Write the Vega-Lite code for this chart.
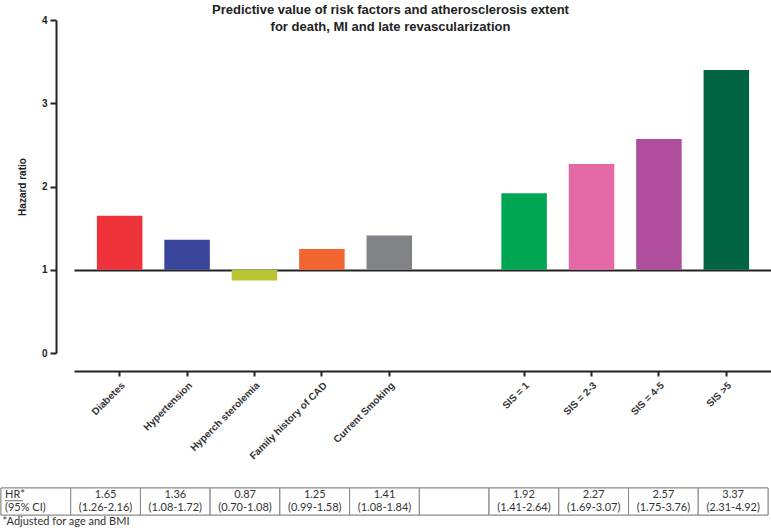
{
  "$schema": "https://vega.github.io/schema/vega-lite/v6.json",
  "padding": {"top": 4, "left": 0, "right": 0, "bottom": 0},
  "spacing": 26,
  "config": {
    "view": {"stroke": null},
    "font": "Liberation Sans"
  },
  "datasets": {
    "bars": [
      {"cat": "Diabetes", "hr": 1.65},
      {"cat": "Hypertension", "hr": 1.36},
      {"cat": "Hyperch sterolemia", "hr": 0.87},
      {"cat": "Family history of CAD", "hr": 1.25},
      {"cat": "Current Smoking", "hr": 1.41},
      {"cat": "SIS = 1", "hr": 1.92},
      {"cat": "SIS = 2-3", "hr": 2.27},
      {"cat": "SIS = 4-5", "hr": 2.57},
      {"cat": "SIS >5", "hr": 3.40}
    ],
    "cells": [
      {"col": "hdr", "row": "HR", "txt": "HR*"},
      {"col": "hdr", "row": "CI", "txt": "(95% CI)"},
      {"col": "Diabetes", "row": "HR", "txt": "1.65"},
      {"col": "Diabetes", "row": "CI", "txt": "(1.26-2.16)"},
      {"col": "Hypertension", "row": "HR", "txt": "1.36"},
      {"col": "Hypertension", "row": "CI", "txt": "(1.08-1.72)"},
      {"col": "Hyperch sterolemia", "row": "HR", "txt": "0.87"},
      {"col": "Hyperch sterolemia", "row": "CI", "txt": "(0.70-1.08)"},
      {"col": "Family history of CAD", "row": "HR", "txt": "1.25"},
      {"col": "Family history of CAD", "row": "CI", "txt": "(0.99-1.58)"},
      {"col": "Current Smoking", "row": "HR", "txt": "1.41"},
      {"col": "Current Smoking", "row": "CI", "txt": "(1.08-1.84)"},
      {"col": "gap", "row": "HR", "txt": ""},
      {"col": "gap", "row": "CI", "txt": ""},
      {"col": "SIS = 1", "row": "HR", "txt": "1.92"},
      {"col": "SIS = 1", "row": "CI", "txt": "(1.41-2.64)"},
      {"col": "SIS = 2-3", "row": "HR", "txt": "2.27"},
      {"col": "SIS = 2-3", "row": "CI", "txt": "(1.69-3.07)"},
      {"col": "SIS = 4-5", "row": "HR", "txt": "2.57"},
      {"col": "SIS = 4-5", "row": "CI", "txt": "(1.75-3.76)"},
      {"col": "SIS >5", "row": "HR", "txt": "3.37"},
      {"col": "SIS >5", "row": "CI", "txt": "(2.31-4.92)"}
    ]
  },
  "vconcat": [
    {
      "width": 771,
      "height": 333,
      "title": {
        "text": ["Predictive value of risk factors and atherosclerosis extent", "for death, MI and late revascularization"],
        "fontSize": 13,
        "fontWeight": "bold",
        "lineHeight": 17,
        "color": "#222222",
        "anchor": "middle",
        "dx": 4,
        "offset": -19
      },
      "data": {"name": "bars"},
      "layer": [
        {
          "mark": {"type": "bar"},
          "encoding": {
            "x": {
              "field": "cat",
              "type": "nominal",
              "scale": {
                "domain": ["Diabetes", "Hypertension", "Hyperch sterolemia", "Family history of CAD", "Current Smoking", "gap", "SIS = 1", "SIS = 2-3", "SIS = 4-5", "SIS >5"],
                "range": [73, 771],
                "paddingInner": 0.325,
                "paddingOuter": 0.34
              },
              "axis": {
                "values": ["Diabetes", "Hypertension", "Hyperch sterolemia", "Family history of CAD", "Current Smoking", "SIS = 1", "SIS = 2-3", "SIS = 4-5", "SIS >5"],
                "title": null,
                "offset": 18,
                "labelAngle": -45,
                "labelFont": "Liberation Sans",
                "labelFontWeight": "bold",
                "labelFontSize": 10,
                "labelColor": "#333333",
                "labelPadding": 4,
                "tickSize": 5,
                "tickWidth": 2,
                "tickColor": "#222222",
                "domainWidth": 2,
                "domainColor": "#222222"
              }
            },
            "y": {
              "field": "hr",
              "type": "quantitative",
              "scale": {"domain": [0, 4], "nice": false},
              "axis": {
                "values": [0, 1, 2, 3, 4],
                "offset": -55,
                "title": "Hazard ratio",
                "titleFont": "Liberation Sans",
                "titleFontSize": 10,
                "titleFontWeight": "bold",
                "titleColor": "#222222",
                "titlePadding": 14,
                "labelFont": "Liberation Sans",
                "labelFontSize": 10,
                "labelFontWeight": "bold",
                "labelColor": "#222222",
                "labelPadding": 3,
                "tickSize": 6,
                "tickWidth": 2,
                "tickColor": "#222222",
                "domainWidth": 2,
                "domainColor": "#222222",
                "grid": false
              }
            },
            "y2": {"datum": 1},
            "color": {
              "field": "cat",
              "type": "nominal",
              "scale": {
                "domain": ["Diabetes", "Hypertension", "Hyperch sterolemia", "Family history of CAD", "Current Smoking", "SIS = 1", "SIS = 2-3", "SIS = 4-5", "SIS >5"],
                "range": ["#EE333B", "#38459A", "#B6C531", "#F26532", "#808285", "#00A651", "#E46AA7", "#AF4D9D", "#006341"]
              },
              "legend": null
            }
          }
        },
        {
          "mark": {"type": "point", "opacity": 0},
          "encoding": {
            "x": {
              "field": "cat",
              "type": "nominal",
              "axis": {
                "orient": "top",
                "offset": -250,
                "labels": false,
                "ticks": false,
                "title": null,
                "domainWidth": 2,
                "domainColor": "#222222"
              }
            }
          }
        }
      ],
      "resolve": {"axis": {"x": "independent"}}
    },
    {
      "width": 767,
      "height": 27,
      "title": {
        "text": "*Adjusted for age and BMI",
        "orient": "bottom",
        "anchor": "start",
        "font": "Lato",
        "fontSize": 11,
        "fontWeight": "normal",
        "color": "#333333",
        "offset": 0,
        "dx": 2
      },
      "data": {"name": "cells"},
      "layer": [
        {
          "mark": {"type": "rect", "fill": "white", "stroke": "#8a8a8a", "strokeWidth": 1},
          "encoding": {
            "x": {
              "field": "col",
              "type": "nominal",
              "scale": {
                "domain": ["hdr", "Diabetes", "Hypertension", "Hyperch sterolemia", "Family history of CAD", "Current Smoking", "gap", "SIS = 1", "SIS = 2-3", "SIS = 4-5", "SIS >5"],
                "paddingInner": 0,
                "paddingOuter": 0
              },
              "axis": null
            }
          }
        },
        {
          "transform": [{"filter": "datum.col !== 'hdr'"}],
          "mark": {"type": "text", "font": "Lato", "fontSize": 11, "color": "#333333", "align": "center", "baseline": "middle"},
          "encoding": {
            "x": {"field": "col", "type": "nominal", "axis": null},
            "y": {"field": "row", "type": "nominal", "scale": {"domain": ["HR", "CI"], "paddingInner": 0, "paddingOuter": 0}, "axis": null},
            "text": {"field": "txt"}
          }
        },
        {
          "transform": [{"filter": "datum.col === 'hdr'"}],
          "mark": {"type": "text", "font": "Lato", "fontSize": 11, "color": "#333333", "align": "left", "baseline": "middle", "dx": 4},
          "encoding": {
            "x": {"field": "col", "type": "nominal", "bandPosition": 0, "axis": null},
            "y": {"field": "row", "type": "nominal", "axis": null},
            "text": {"field": "txt"}
          }
        },
        {
          "transform": [{"filter": "datum.col === 'hdr' && datum.row === 'HR'"}],
          "mark": {"type": "tick", "orient": "horizontal", "size": 18, "thickness": 1, "color": "#333333", "xOffset": -22, "yOffset": 6},
          "encoding": {
            "x": {"field": "col", "type": "nominal", "axis": null},
            "y": {"field": "row", "type": "nominal", "axis": null}
          }
        }
      ]
    }
  ]
}
